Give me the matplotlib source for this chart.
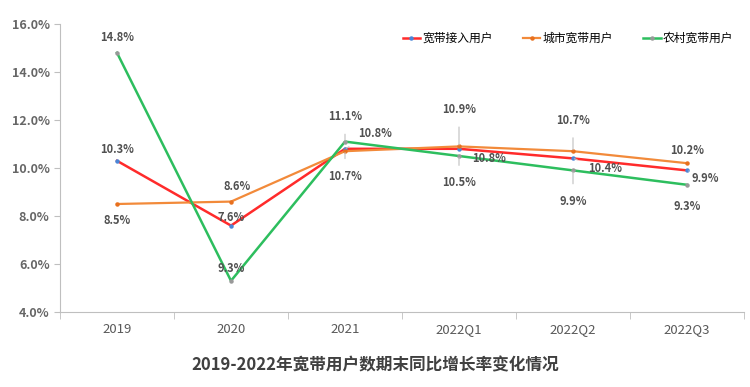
import matplotlib
matplotlib.use('Agg')
import matplotlib.pyplot as plt

plt.rcParams['font.family'] = ['Noto Sans CJK SC', 'DejaVu Sans']

periods = ['2019', '2020', '2021', '2022Q1', '2022Q2', '2022Q3']
total = [10.3, 7.6, 10.8, 10.8, 10.4, 9.9]
urban = [8.5, 8.6, 10.7, 10.9, 10.7, 10.2]
rural = [14.8, 5.3, 11.1, 10.5, 9.9, 9.3]
# labels as printed in the source chart (the 2020 rural label reads 9.3%)
total_lbl = ['10.3%', '7.6%', '10.8%', '10.8%', '10.4%', '9.9%']
urban_lbl = ['8.5%', '8.6%', '10.7%', '10.9%', '10.7%', '10.2%']
rural_lbl = ['14.8%', '9.3%', '11.1%', '10.5%', '9.9%', '9.3%']
names = ['宽带接入用户', '城市宽带用户', '农村宽带用户']
title = '2019-2022年宽带用户数期末同比增长率变化情况'

fig = plt.figure(figsize=(7.5, 3.87), dpi=100)
ax = fig.add_axes([60/750, 75/387, 684/750, 288/387])

x = list(range(len(periods)))
ax.plot(x, total, color='#FF2B2B', lw=1.8, marker='o', ms=2.2, mfc='#4A86D8', mec='#4A86D8', label=names[0])
ax.plot(x, urban, color='#F28A3A', lw=1.6, marker='o', ms=2.2, mfc='#E8701E', mec='#E8701E', label=names[1])
ax.plot(x, rural, color='#2DBE5E', lw=1.8, marker='o', ms=2.2, mfc='#999999', mec='#999999', label=names[2])

ax.set_xlim(-0.5, 5.5)
ax.set_ylim(4, 16)
ax.set_yticks([4, 6, 8, 10, 12, 14, 16])
ax.set_yticklabels(['%.1f%%' % v for v in [4, 6, 8, 10, 12, 14, 16]],
                   fontsize=9, color='#666666', fontweight='bold')
ax.set_xticks(x)
ax.set_xticklabels(periods, fontsize=9.5, color='#595959')
ax.set_xticks([i + 0.5 for i in range(-1, 6)], minor=True)
ax.tick_params(axis='x', which='major', length=0, pad=8)
ax.tick_params(axis='x', which='minor', length=5, color='#BFBFBF')
ax.tick_params(axis='y', length=4, color='#BFBFBF')
for s in ['top', 'right']:
    ax.spines[s].set_visible(False)
ax.spines['left'].set_color('#BFBFBF')
ax.spines['bottom'].set_color('#BFBFBF')

# label offsets in pixels (dx, dy) and whether to draw a leader line
total_off = [(0, 11, 0), (0, 8, 0), (30, 15, 1), (30, -10, 0), (32, -10, 1), (18, -8, 1)]
urban_off = [(0, -17, 0), (6, 15, 0), (0, -25, 1), (0, 37, 1), (0, 31, 1), (0, 13, 0)]
rural_off = [(0, 15, 0), (0, 12, 0), (0, 25, 1), (0, -27, 1), (0, -31, 1), (0, -22, 0)]

for vals, lbls, offs in [(total, total_lbl, total_off), (urban, urban_lbl, urban_off), (rural, rural_lbl, rural_off)]:
    for i, (v, t, o) in enumerate(zip(vals, lbls, offs)):
        dx, dy, lead = o
        kw = {}
        if lead:
            kw['arrowprops'] = dict(arrowstyle='-', color='#BFBFBF', lw=0.8, shrinkA=6, shrinkB=1)
        ax.annotate(t, (i, v), xytext=(dx, dy), textcoords='offset pixels',
                    ha='center', va='center', fontsize=8, color='#505050',
                    fontweight='bold', **kw)

ax.legend(loc='upper right', bbox_to_anchor=(1.0, 1.01), ncol=3, frameon=False,
          fontsize=8.5, handlelength=1.5, handletextpad=0.2, columnspacing=2.5)

fig.text(0.5, 1 - 365/387, title, ha='center', va='center', fontsize=12,
         fontweight='bold', color='#404040')

fig.savefig('out.png', dpi=100, facecolor='white')
